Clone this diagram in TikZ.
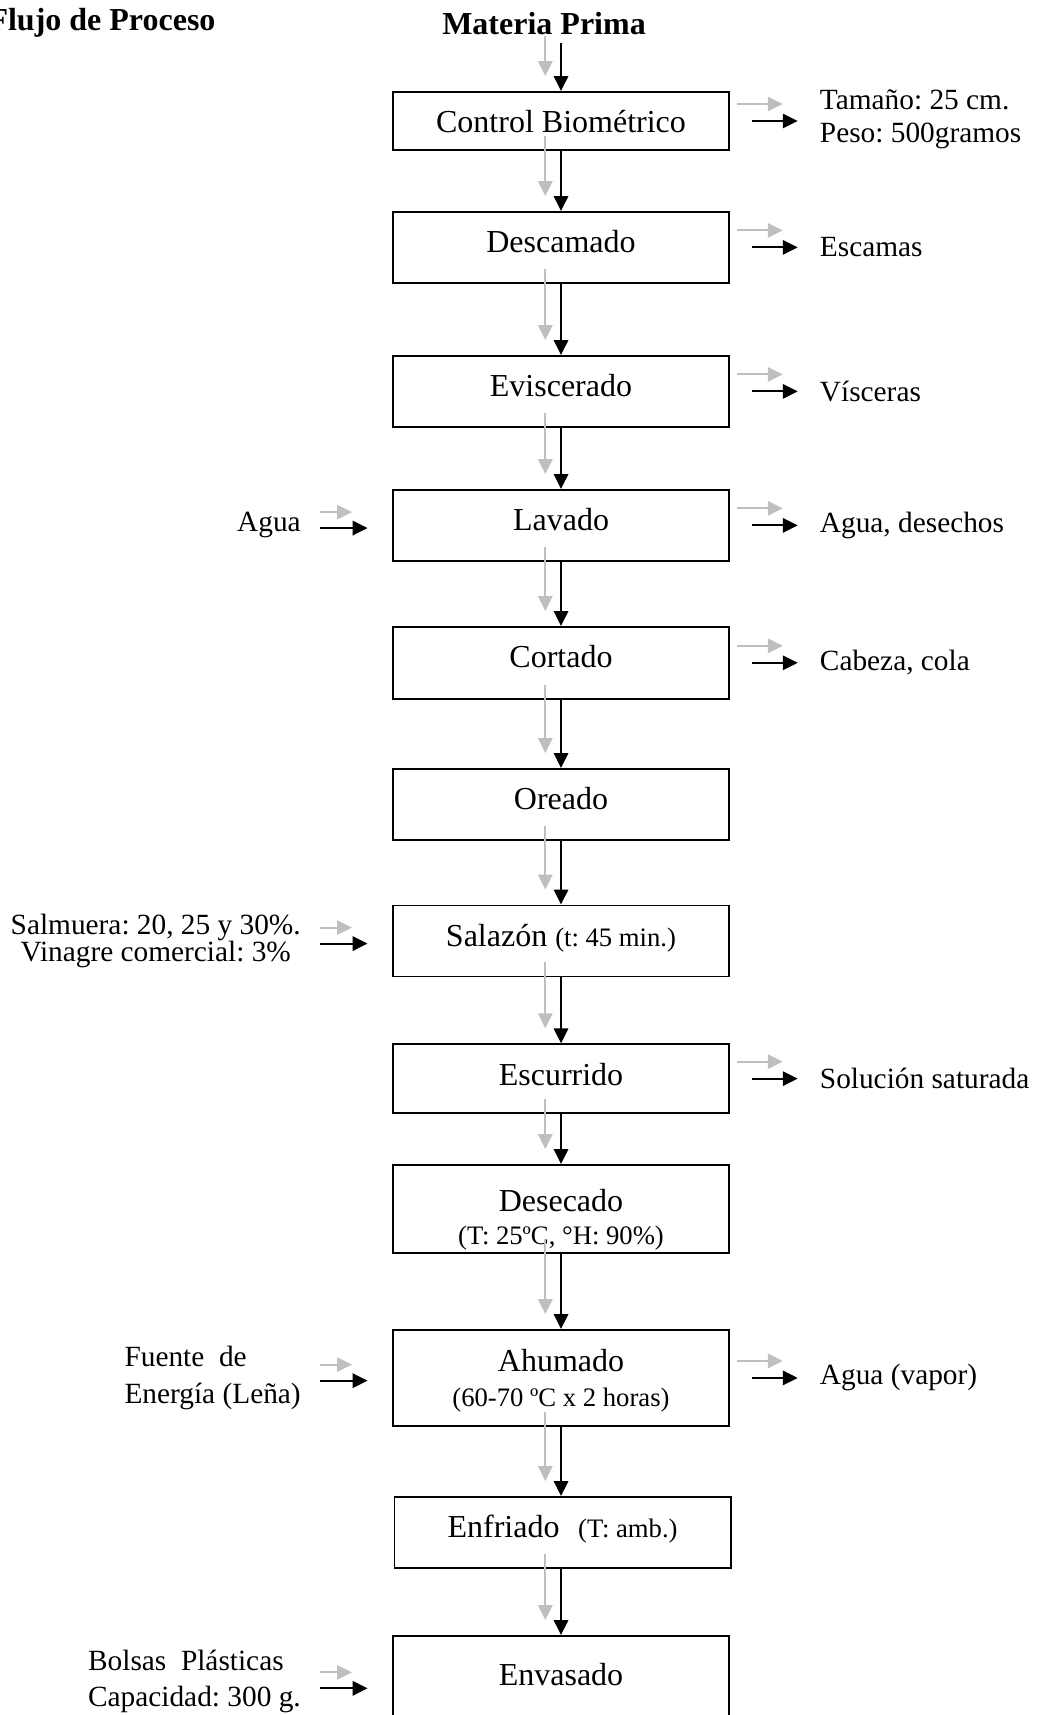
\documentclass[tikz,border=0pt]{standalone}
\usepackage{fontspec}
\setmainfont{Liberation Serif}
\frenchspacing
\usetikzlibrary{positioning}
\usetikzlibrary{arrows.meta,calc}

\tikzset{
  paso/.style={draw, line width=0.6pt, minimum width=126.2pt, inner xsep=0pt, inner ysep=0pt,
    text height=15.4pt, text depth=11.3pt, anchor=north, font=\fontsize{12}{14}\selectfont},
  paso2/.style={draw, line width=0.6pt, minimum width=126.2pt, inner sep=0pt, align=center,
    anchor=north, font=\fontsize{12}{12.5}\selectfont},
  lado/.style={inner sep=0pt, font=\fontsize{11}{12}\selectfont},
  titulo/.style={inner sep=0pt, font=\fontsize{12}{14}\selectfont\bfseries},
  flujo/.style={->, line width=0.75pt, black},
  sombra/.style={->, line width=0.75pt, black!25}
}

\begin{document}
\begin{tikzpicture}[x=0.375pt, y=-0.375pt, >={Triangle[length=5.6pt,width=5.4pt]}]
\useasboundingbox (0,0) rectangle (1039,1715);
\node[titulo, anchor=base west] (tit) at (-12,31) {Flujo de Proceso};
\node[titulo, anchor=base] (mp) at (544,35) {Materia Prima};
% etapas
\node[paso, text depth=6.5pt] (cb) at (561,91) {Control Biométrico};
\node[paso] (de) at (561,211) {Descamado};
\node[paso] (ev) at (561,355) {Eviscerado};
\node[paso] (la) at (561,489) {Lavado};
\node[paso, text depth=11.6pt] (co) at (561,626) {Cortado};
\node[paso] (or) at (561,768) {Oreado};
\node[paso] (sa) at (561,904.5) {Salazón {\fontsize{10}{12}\selectfont(t: 45 min.)}};
\node[paso, text depth=10.5pt] (es) at (561,1043.3) {Escurrido};
\node[paso2, minimum height=33.1pt] (dc) at (561,1164) {\rule{0pt}{16.4pt}Desecado\\{\fontsize{10}{12}\selectfont(T: 25ºC, °H: 90\%)}};
\node[paso2, minimum height=36.1pt] (ah) at (561,1329) {\rule{0pt}{10.3pt}Ahumado\\[0.5pt]{\fontsize{10}{12}\selectfont(60-70 ºC x 2 horas)}};
\node[paso] (en) at (562.6,1496) {Enfriado\hspace{7pt}{\fontsize{10}{12}\selectfont(T: amb.)}};
\node[paso, text height=18.7pt, text depth=11.7pt] (ev2) at (561,1635) {Envasado};
% salidas y entradas
\node[lado, right=33.5pt of cb, yshift=0.5pt, align=left] (tam) {Tamaño: 25 cm.\\[0.3pt]Peso: 500gramos};
\node[lado, right=33.5pt of de] (esc) {Escamas};
\node[lado, right=33.5pt of ev] (vis) {Vísceras};
\node[lado, right=33.5pt of la] (agd) {Agua, desechos};
\node[lado, right=33.5pt of co] (cab) {Cabeza, cola};
\node[lado, right=33.5pt of es] (sol) {Solución saturada};
\node[lado, right=33.5pt of ah] (vap) {Agua (vapor)};
\node[lado, left=34pt of la] (agu) {Agua};
\node[lado, left=34pt of sa, align=center] (sal) {Salmuera: 20, 25 y 30\%.\\[-2pt]Vinagre comercial: 3\%};
\node[lado, left=34pt of ah, align=left] (fue) {Fuente\ \ de\\[1.6pt]Energía (Leña)};
\node[lado, left=34pt of ev2, yshift=-2pt, align=left] (bol) {Bolsas\ \ Plásticas\\[1.6pt]Capacidad: 300 g.};
% flujo principal
\draw[sombra] ($(mp.south -| cb.north)+(-15.7,0)$) -- ($(cb.north)+(-15.7,-15)$);
\draw[flujo] ($(mp.south -| cb.north)+(0,6.7)$) -- (cb.north);
\draw[sombra] ($(cb.south)+(-15.7,-15)$) -- ($(de.north)+(-15.7,-15)$);
\draw[flujo] (cb) -- (de);
\draw[sombra] ($(de.south)+(-15.7,-15)$) -- ($(ev.north)+(-15.7,-15)$);
\draw[flujo] (de) -- (ev);
\draw[sombra] ($(ev.south)+(-15.7,-15)$) -- ($(la.north)+(-15.7,-15)$);
\draw[flujo] (ev) -- (la);
\draw[sombra] ($(la.south)+(-15.7,-15)$) -- ($(co.north)+(-15.7,-15)$);
\draw[flujo] (la) -- (co);
\draw[sombra] ($(co.south)+(-15.7,-15)$) -- ($(or.north)+(-15.7,-15)$);
\draw[flujo] (co) -- (or);
\draw[sombra] ($(or.south)+(-15.7,-15)$) -- ($(sa.north)+(-15.7,-15)$);
\draw[flujo] (or) -- (sa);
\draw[sombra] ($(sa.south)+(-15.7,-15)$) -- ($(es.north)+(-15.7,-15)$);
\draw[flujo] (sa) -- (es);
\draw[sombra] ($(es.south)+(-15.7,-15)$) -- ($(dc.north)+(-15.7,-15)$);
\draw[flujo] (es) -- (dc);
\draw[sombra] ($(dc.south)+(-15.7,-15)$) -- ($(ah.north)+(-15.7,-15)$);
\draw[flujo] (dc) -- (ah);
\draw[sombra] ($(ah.south)+(-15.7,-15)$) -- ($(ah.south |- en.north)+(-15.7,-15)$);
\draw[flujo] (ah.south) -- (ah.south |- en.north);
\draw[sombra] ($(ah.south |- en.south)+(-15.7,-15)$) -- ($(ev2.north)+(-15.7,-15)$);
\draw[flujo] (ah.south |- en.south) -- (ev2.north);
% salidas
\draw[sombra] ($(cb.east)+(6.7,-17)$) -- ($(cb.east -| tam.west)+(-36.7,-17)$);
\draw[flujo] ($(cb.east)+(22.4,0)$) -- ($(cb.east -| tam.west)+(-21.7,0)$);
\draw[sombra] ($(de.east)+(6.7,-17)$) -- ($(de.east -| esc.west)+(-36.7,-17)$);
\draw[flujo] ($(de.east)+(22.4,0)$) -- ($(de.east -| esc.west)+(-21.7,0)$);
\draw[sombra] ($(ev.east)+(6.7,-17)$) -- ($(ev.east -| vis.west)+(-36.7,-17)$);
\draw[flujo] ($(ev.east)+(22.4,0)$) -- ($(ev.east -| vis.west)+(-21.7,0)$);
\draw[sombra] ($(la.east)+(6.7,-17)$) -- ($(la.east -| agd.west)+(-36.7,-17)$);
\draw[flujo] ($(la.east)+(22.4,0)$) -- ($(la.east -| agd.west)+(-21.7,0)$);
\draw[sombra] ($(co.east)+(6.7,-17)$) -- ($(co.east -| cab.west)+(-36.7,-17)$);
\draw[flujo] ($(co.east)+(22.4,0)$) -- ($(co.east -| cab.west)+(-21.7,0)$);
\draw[sombra] ($(es.east)+(6.7,-17)$) -- ($(es.east -| sol.west)+(-36.7,-17)$);
\draw[flujo] ($(es.east)+(22.4,0)$) -- ($(es.east -| sol.west)+(-21.7,0)$);
\draw[sombra] ($(ah.east)+(6.7,-17)$) -- ($(ah.east -| vap.west)+(-36.7,-17)$);
\draw[flujo] ($(ah.east)+(22.4,0)$) -- ($(ah.east -| vap.west)+(-21.7,0)$);
% entradas
\draw[sombra] ($(la.west -| agu.east)+(18.7,-13.3)$) -- ($(la.west)+(-40,-13.3)$);
\draw[flujo] ($(la.west -| agu.east)+(18.7,2.7)$) -- ($(la.west)+(-24.4,2.7)$);
\draw[sombra] ($(sa.west -| sal.east)+(18.7,-13.3)$) -- ($(sa.west)+(-40,-13.3)$);
\draw[flujo] ($(sa.west -| sal.east)+(18.7,2.7)$) -- ($(sa.west)+(-24.4,2.7)$);
\draw[sombra] ($(ah.west -| fue.east)+(18.7,-13.3)$) -- ($(ah.west)+(-40,-13.3)$);
\draw[flujo] ($(ah.west -| fue.east)+(18.7,2.7)$) -- ($(ah.west)+(-24.4,2.7)$);
\draw[sombra] ($(ev2.west -| bol.east)+(18.7,-4)$) -- ($(ev2.west)+(-40,-4)$);
\draw[flujo] ($(ev2.west -| bol.east)+(18.7,12)$) -- ($(ev2.west)+(-24.4,12)$);
\end{tikzpicture}
\end{document}
